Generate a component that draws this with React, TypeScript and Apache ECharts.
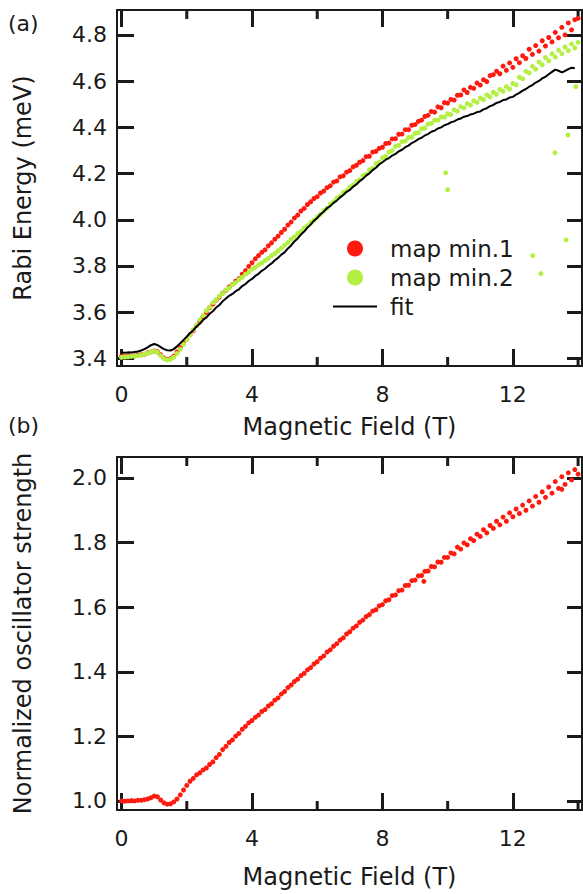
import React, { useEffect, useRef } from "react";
import * as echarts from "echarts";

// Magnetic field grid (T)
const FIELD = [
  0.0, 0.1, 0.2, 0.3, 0.4, 0.5, 0.6, 0.7, 0.8, 0.9,
  1.0, 1.1, 1.2, 1.3, 1.4, 1.5, 1.6, 1.7, 1.8, 1.9,
  2.0, 2.1, 2.2, 2.3, 2.4, 2.5, 2.6, 2.7, 2.8, 2.9,
  3.0, 3.1, 3.2, 3.3, 3.4, 3.5, 3.6, 3.7, 3.8, 3.9,
  4.0, 4.1, 4.2, 4.3, 4.4, 4.5, 4.6, 4.7, 4.8, 4.9,
  5.0, 5.1, 5.2, 5.3, 5.4, 5.5, 5.6, 5.7, 5.8, 5.9,
  6.0, 6.1, 6.2, 6.3, 6.4, 6.5, 6.6, 6.7, 6.8, 6.9,
  7.0, 7.1, 7.2, 7.3, 7.4, 7.5, 7.6, 7.7, 7.8, 7.9,
  8.0, 8.1, 8.2, 8.3, 8.4, 8.5, 8.6, 8.7, 8.8, 8.9,
  9.0, 9.1, 9.2, 9.3, 9.4, 9.5, 9.6, 9.7, 9.8, 9.9,
  10.0, 10.1, 10.2, 10.3, 10.4, 10.5, 10.6, 10.7, 10.8, 10.9,
  11.0, 11.1, 11.2, 11.3, 11.4, 11.5, 11.6, 11.7, 11.8, 11.9,
  12.0, 12.1, 12.2, 12.3, 12.4, 12.5, 12.6, 12.7, 12.8, 12.9,
  13.0, 13.1, 13.2, 13.3, 13.4, 13.5, 13.6, 13.7, 13.8, 13.9,
  14.0,
];

// (a) map min.1 (meV)
const MAP_MIN1 = [
  3.410, 3.408, 3.412, 3.410, 3.411, 3.414, 3.416, 3.418, 3.424, 3.428,
  3.432, 3.429, 3.416, 3.402, 3.396, 3.399, 3.410, 3.428, 3.447, 3.466,
  3.482, 3.503, 3.520, 3.542, 3.560, 3.581, 3.599, 3.619, 3.635, 3.652,
  3.665, 3.682, 3.694, 3.709, 3.720, 3.734, 3.745, 3.764, 3.780, 3.798,
  3.814, 3.831, 3.845, 3.859, 3.870, 3.887, 3.900, 3.916, 3.929, 3.945,
  3.959, 3.977, 3.990, 4.008, 4.020, 4.038, 4.049, 4.066, 4.078, 4.092,
  4.100, 4.116, 4.124, 4.139, 4.147, 4.163, 4.168, 4.186, 4.190, 4.206,
  4.213, 4.229, 4.236, 4.249, 4.256, 4.273, 4.275, 4.293, 4.296, 4.309,
  4.314, 4.330, 4.332, 4.350, 4.351, 4.370, 4.371, 4.390, 4.390, 4.409,
  4.412, 4.426, 4.431, 4.447, 4.452, 4.469, 4.466, 4.489, 4.485, 4.507,
  4.505, 4.521, 4.518, 4.539, 4.540, 4.562, 4.551, 4.573, 4.569, 4.592,
  4.583, 4.606, 4.598, 4.624, 4.628, 4.643, 4.632, 4.665, 4.647, 4.679,
  4.660, 4.697, 4.680, 4.710, 4.698, 4.738, 4.716, 4.754, 4.730, 4.775,
  4.752, 4.789, 4.770, 4.811, 4.788, 4.833, 4.800, 4.852, 4.822, 4.866,
  4.872,
];

// (a) map min.2 (meV)
const MAP_MIN2 = [
  3.404, 3.406, 3.407, 3.409, 3.410, 3.411, 3.414, 3.418, 3.422, 3.428,
  3.431, 3.426, 3.412, 3.399, 3.393, 3.396, 3.405, 3.421, 3.440, 3.461,
  3.481, 3.501, 3.524, 3.544, 3.567, 3.585, 3.606, 3.621, 3.641, 3.654,
  3.669, 3.681, 3.696, 3.705, 3.719, 3.728, 3.741, 3.751, 3.764, 3.773,
  3.786, 3.794, 3.805, 3.813, 3.824, 3.833, 3.845, 3.854, 3.866, 3.877,
  3.890, 3.901, 3.916, 3.926, 3.940, 3.950, 3.964, 3.974, 3.988, 3.998,
  4.012, 4.023, 4.040, 4.050, 4.068, 4.078, 4.094, 4.102, 4.118, 4.126,
  4.142, 4.150, 4.166, 4.173, 4.191, 4.197, 4.216, 4.223, 4.243, 4.249,
  4.268, 4.274, 4.293, 4.299, 4.318, 4.322, 4.338, 4.341, 4.356, 4.358,
  4.374, 4.377, 4.394, 4.397, 4.414, 4.417, 4.431, 4.431, 4.445, 4.444,
  4.459, 4.455, 4.476, 4.470, 4.490, 4.484, 4.503, 4.496, 4.515, 4.508,
  4.527, 4.520, 4.540, 4.532, 4.552, 4.543, 4.564, 4.556, 4.576, 4.566,
  4.590, 4.584, 4.617, 4.610, 4.642, 4.636, 4.664, 4.652, 4.683, 4.671,
  4.702, 4.688, 4.718, 4.704, 4.734, 4.719, 4.748, 4.732, 4.761, 4.744,
  4.768,
];

// (a) map min.2 stray points
const MIN2_STRAY_X = [9.94, 10.0, 12.61, 12.86, 13.29, 13.63, 13.69, 13.93];
const MIN2_STRAY_Y = [4.203, 4.130, 3.845, 3.767, 4.290, 3.913, 4.367, 4.576];

// (a) fit (meV), field 0 .. 13.9
const FIT = [
  3.425, 3.424, 3.426, 3.425, 3.428, 3.430, 3.434, 3.440, 3.448, 3.457,
  3.462, 3.458, 3.449, 3.440, 3.435, 3.434, 3.440, 3.452, 3.466, 3.480,
  3.494, 3.510, 3.522, 3.538, 3.550, 3.566, 3.577, 3.593, 3.604, 3.620,
  3.631, 3.647, 3.659, 3.671, 3.679, 3.691, 3.699, 3.713, 3.722, 3.735,
  3.744, 3.757, 3.766, 3.779, 3.788, 3.801, 3.811, 3.825, 3.835, 3.849,
  3.859, 3.876, 3.889, 3.906, 3.919, 3.936, 3.949, 3.966, 3.979, 3.996,
  4.008, 4.024, 4.035, 4.050, 4.059, 4.073, 4.083, 4.097, 4.107, 4.121,
  4.129, 4.143, 4.153, 4.167, 4.177, 4.191, 4.201, 4.215, 4.225, 4.239,
  4.249, 4.260, 4.267, 4.278, 4.285, 4.296, 4.303, 4.314, 4.321, 4.332,
  4.339, 4.349, 4.355, 4.365, 4.371, 4.381, 4.386, 4.395, 4.400, 4.409,
  4.414, 4.422, 4.426, 4.434, 4.438, 4.446, 4.449, 4.456, 4.459, 4.466,
  4.469, 4.478, 4.483, 4.492, 4.497, 4.506, 4.510, 4.518, 4.521, 4.529,
  4.532, 4.542, 4.549, 4.559, 4.566, 4.576, 4.583, 4.594, 4.601, 4.612,
  4.619, 4.630, 4.640, 4.650, 4.645, 4.638, 4.644, 4.652, 4.658, 4.656,
];

// (b) normalized oscillator strength
const OSC = [
  1.000, 0.999, 1.000, 1.001, 1.000, 1.002, 1.002, 1.004, 1.006, 1.010,
  1.015, 1.013, 1.003, 0.994, 0.990, 0.991, 0.997, 1.006, 1.019, 1.034,
  1.048, 1.061, 1.070, 1.081, 1.087, 1.096, 1.102, 1.113, 1.121, 1.134,
  1.144, 1.159, 1.169, 1.181, 1.189, 1.201, 1.209, 1.222, 1.231, 1.242,
  1.249, 1.259, 1.266, 1.277, 1.283, 1.294, 1.301, 1.312, 1.319, 1.331,
  1.339, 1.351, 1.359, 1.370, 1.377, 1.388, 1.395, 1.406, 1.413, 1.424,
  1.431, 1.442, 1.449, 1.461, 1.468, 1.479, 1.487, 1.498, 1.505, 1.517,
  1.524, 1.535, 1.542, 1.553, 1.560, 1.571, 1.577, 1.588, 1.592, 1.604,
  1.608, 1.620, 1.623, 1.636, 1.638, 1.651, 1.653, 1.667, 1.668, 1.682,
  1.684, 1.697, 1.698, 1.711, 1.712, 1.726, 1.725, 1.740, 1.739, 1.754,
  1.754, 1.768, 1.765, 1.786, 1.780, 1.799, 1.793, 1.812, 1.806, 1.826,
  1.819, 1.840, 1.830, 1.853, 1.844, 1.866, 1.855, 1.879, 1.866, 1.892,
  1.880, 1.904, 1.890, 1.916, 1.900, 1.929, 1.913, 1.943, 1.925, 1.957,
  1.940, 1.972, 1.953, 1.989, 1.968, 2.004, 1.980, 2.016, 1.994, 2.026,
  2.012,
];
const OSC_STRAY_X = [9.27, 13.5];
const OSC_STRAY_Y = [1.680, 1.965];

// ticks
const X_MAJOR = [0, 4, 8, 12];
const X_MINOR = [2, 6, 10, 14];
const Y_TICKS_A = [3.4, 3.6, 3.8, 4.0, 4.2, 4.4, 4.6, 4.8];
const Y_TICKS_B = [1.0, 1.2, 1.4, 1.6, 1.8, 2.0];

const FONT = "DejaVu Sans";
const TXT = "#1a1a1a";
const INK = "#1a1a1a";
const RED = "#ff1a0f";
const GREEN = "#b4f043";

const X_MIN = -0.14;
const X_MAX = 14.12;
const YA = [3.367, 4.908];
const YB = [0.972, 2.065];

// minor x ticks (bottom and top), drawn through the axes' own scales
function minorTickRender(params: any, api: any) {
  const cs = params.coordSys;
  const p = api.coord([api.value(0), api.value(1)]);
  const bottom = cs.y + cs.height;
  const top = cs.y;
  return {
    type: "group",
    children: [
      { type: "rect", shape: { x: p[0] - 1.5, y: bottom - 9, width: 3, height: 9 }, style: { fill: INK } },
      { type: "rect", shape: { x: p[0] - 1.5, y: top, width: 3, height: 9 }, style: { fill: INK } },
    ],
  };
}

function buildOption(yTicks: number[], yr: number[], yName: string, nameGap: number, series: any[], extra: any) {
  return {
    animation: false,
    grid: [{ left: 117, top: 10, right: 1, height: 356 }],
    xAxis: [
      {
        type: "value",
        min: X_MIN,
        max: X_MAX,
        axisLine: { onZero: false, lineStyle: { color: INK, width: 2 } },
        axisTick: { show: true, inside: true, length: 17, customValues: X_MAJOR, lineStyle: { color: INK, width: 3 } },
        axisLabel: { customValues: X_MAJOR, fontSize: 22, fontFamily: FONT, color: TXT, margin: 17 },
        splitLine: { show: false },
        name: "Magnetic Field (T)",
        nameLocation: "middle",
        nameGap,
        nameTextStyle: { fontSize: 24, fontFamily: FONT, color: TXT },
      },
      {
        type: "value",
        position: "top",
        min: X_MIN,
        max: X_MAX,
        axisLine: { onZero: false, lineStyle: { color: INK, width: 2 } },
        axisTick: { show: true, inside: true, length: 17, customValues: X_MAJOR, lineStyle: { color: INK, width: 3 } },
        axisLabel: { show: false, customValues: X_MAJOR },
        splitLine: { show: false },
      },
    ],
    yAxis: [
      {
        type: "value",
        min: yr[0],
        max: yr[1],
        axisLine: { show: true, onZero: false, lineStyle: { color: INK, width: 2 } },
        axisTick: { show: true, inside: true, length: 17, customValues: yTicks, lineStyle: { color: INK, width: 3 } },
        axisLabel: {
          customValues: yTicks,
          fontSize: 22,
          fontFamily: FONT,
          color: TXT,
          margin: 10,
          formatter: (v: number) => v.toFixed(1),
        },
        splitLine: { show: false },
        name: yName,
        nameLocation: "middle",
        nameRotate: 90,
        nameGap: 82,
        nameTextStyle: { fontSize: 24, fontFamily: FONT, color: TXT },
      },
      {
        type: "value",
        position: "right",
        min: yr[0],
        max: yr[1],
        axisLine: { show: true, onZero: false, lineStyle: { color: INK, width: 2 } },
        axisTick: { show: true, inside: true, length: 15, customValues: yTicks, lineStyle: { color: INK, width: 3 } },
        axisLabel: { show: false, customValues: yTicks },
        splitLine: { show: false },
      },
    ],
    series: [
      ...series,
      {
        name: "minor ticks",
        type: "custom",
        silent: true,
        renderItem: minorTickRender,
        data: X_MINOR.map((v) => [v, yr[0]]),
      },
    ],
    ...extra,
  };
}

function Panel({ option, height }: { option: any; height: number }) {
  const ref = useRef<HTMLDivElement>(null);
  useEffect(() => {
    const chart = echarts.init(ref.current!, null, { renderer: "svg" });
    chart.setOption(option);
    return () => chart.dispose();
  }, [option]);
  return <div ref={ref} style={{ width: 583, height }} />;
}

const min1 = FIELD.map((x, i) => [x, MAP_MIN1[i]]);
const min2 = FIELD.map((x, i) => [x, MAP_MIN2[i]]).concat(MIN2_STRAY_X.map((x, i) => [x, MIN2_STRAY_Y[i]]));
const fit = FIT.map((y, i) => [FIELD[i], y]);
const osc = FIELD.map((x, i) => [x, OSC[i]]).concat(OSC_STRAY_X.map((x, i) => [x, OSC_STRAY_Y[i]]));

const OPTION_A = buildOption(
  Y_TICKS_A,
  YA,
  "Rabi Energy (meV)",
  49,
  [
    { name: "map min.1", type: "scatter", symbol: "circle", symbolSize: 5, itemStyle: { color: RED, opacity: 1 }, data: min1 },
    { name: "map min.2", type: "scatter", symbol: "circle", symbolSize: 5, itemStyle: { color: GREEN, opacity: 1 }, data: min2 },
    {
      name: "fit",
      type: "line",
      symbol: "none",
      showSymbol: false,
      lineStyle: { color: "#000", width: 2 },
      itemStyle: { color: "#000" },
      data: fit,
    },
  ],
  {
    legend: {
      orient: "vertical",
      left: 333,
      top: 237,
      padding: 0,
      itemWidth: 44,
      itemHeight: 16,
      itemGap: 6,
      selectedMode: false,
      textStyle: { fontSize: 23, fontFamily: FONT, color: TXT, padding: [0, 0, 0, 8] },
      data: [
        { name: "map min.1", icon: "circle" },
        { name: "map min.2", icon: "circle" },
        { name: "fit", icon: "path://M0 0 L44 0 L44 2 L0 2 Z" },
      ],
    },
    graphic: {
      elements: [
        { type: "text", left: 8, top: 12, style: { text: "(a)", font: "22px 'DejaVu Sans'", fill: TXT } },
        { type: "text", left: 8, top: 414, style: { text: "(b)", font: "22px 'DejaVu Sans'", fill: TXT } },
      ],
    },
  }
);

const OPTION_B = buildOption(
  Y_TICKS_B,
  YB,
  "Normalized oscillator strength",
  55,
  [
    {
      name: "oscillator strength",
      type: "scatter",
      symbol: "circle",
      symbolSize: 5,
      itemStyle: { color: RED, opacity: 1 },
      data: osc,
    },
  ],
  {}
);
OPTION_B.grid = [{ left: 117, top: 10, right: 1, height: 355 }];

export default function App() {
  useEffect(() => {
    document.body.style.margin = "0";
  }, []);
  return (
    <div style={{ width: 583, height: 894, background: "#fff" }}>
      <Panel option={OPTION_A} height={447} />
      <Panel option={OPTION_B} height={447} />
    </div>
  );
}
